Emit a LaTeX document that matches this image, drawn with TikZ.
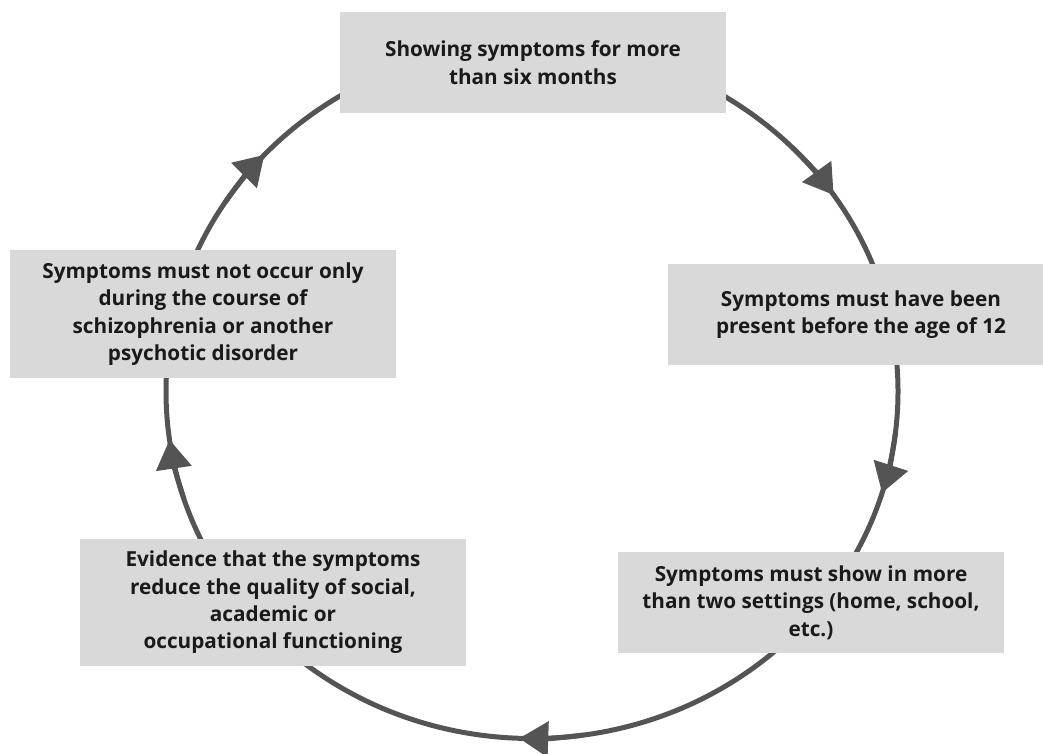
\documentclass[tikz,border=0pt]{standalone}
\usepackage{fontspec}
\setmainfont{Open Sans}
\usetikzlibrary{arrows.meta,calc}
\definecolor{boxgray}{HTML}{D9D9D9}
\definecolor{linegray}{HTML}{545454}
\definecolor{txt}{HTML}{1A1A1A}
\tikzset{
  stepbox/.style={fill=boxgray, draw=none, inner sep=0pt, minimum width=7.72cm,
    align=center, text=txt, font=\fontsize{11.8pt}{15.6pt}\selectfont\bfseries},
  ring/.style={draw=linegray, line width=0.1cm},
  tipline/.style={draw=linegray, line width=0.1cm, -{Triangle[length=0.58cm,width=0.70cm]}}
}
\begin{document}
\begin{tikzpicture}[x=0.02cm,y=0.02cm]
\useasboundingbox (0,0) rectangle (1043,753);
\coordinate (C) at (532,361.5);
\draw[ring] (C) ellipse [x radius=366, y radius=347];
\foreach \t in {137,34.5,-17,-92,188}{
  \draw[tipline] ($(C)+({\t+10}:366 and 347)$) arc[start angle={\t+10}, end angle=\t, x radius=366, y radius=347];
}
\begin{scope}
\clip (0,0) rectangle (1043,753);
\node[stepbox, minimum height=2.02cm] (top) at (533,690.5) {Showing symptoms for more\\than six months};
\node[stepbox, minimum height=2.02cm] (right) at (861,438.5) {Symptoms must have been\\present before the age of 12};
\node[stepbox, minimum height=2.02cm] (brt) at (811,150.5) {Symptoms must show in more\\than two settings (home, school,\\etc.)};
\node[stepbox, minimum height=2.54cm] (blt) at (273,150.5) {Evidence that the symptoms\\reduce the quality of social,\\academic or\\occupational functioning};
\node[stepbox, minimum height=2.56cm] (left) at (203,439) {Symptoms must not occur only\\during the course of\\schizophrenia or another\\psychotic disorder};
\end{scope}
\end{tikzpicture}
\end{document}
